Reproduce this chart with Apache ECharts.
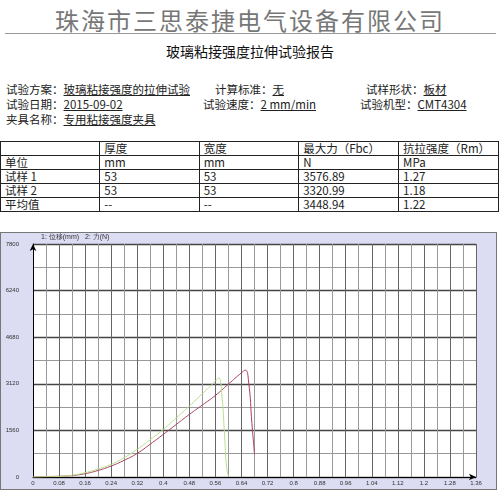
<!DOCTYPE html>
<html><head><meta charset="utf-8">
<script src="https://cdn.jsdelivr.net/npm/echarts@6/dist/echarts.min.js"></script>
<style>
body{margin:0;width:500px;height:494px;background:#fff;font-family:"Noto Sans CJK SC",sans-serif;position:relative;overflow:hidden}
#title{position:absolute;top:2px;left:0;width:500px;text-align:center;font-size:24px;color:#777;letter-spacing:2px}
#rule{position:absolute;top:33px;left:5px;width:491px;border-top:1px solid #999}
#sub{position:absolute;top:41px;left:0;width:500px;text-align:center;font-size:14px;color:#111}
.info{position:absolute;font-size:11.5px;color:#222;white-space:nowrap}
.info u{text-decoration:underline}
table{position:absolute;top:141px;left:0;width:499px;border-collapse:collapse;font-size:11.5px;color:#222}
td{border:1px solid #222;height:13px;padding:0 4px;line-height:13px;width:92px}
#chart{position:absolute;top:232px;left:0;width:497px;height:258px;border:1px solid #777;box-sizing:border-box}
</style></head><body>
<div id="title">珠海市三思泰捷电气设备有限公司</div>
<div id="rule"></div>
<div id="sub">玻璃粘接强度拉伸试验报告</div>
<div class="info" style="top:81px;left:6px">试验方案：<u>玻璃粘接强度的拉伸试验</u></div>
<div class="info" style="top:81px;left:215px">计算标准：<u>无</u></div>
<div class="info" style="top:81px;left:366px">试样形状：<u>板材</u></div>
<div class="info" style="top:96px;left:6px">试验日期：<u>2015-09-02</u></div>
<div class="info" style="top:96px;left:203px">试验速度：<u>2 mm/min</u></div>
<div class="info" style="top:96px;left:360px">试验机型：<u>CMT4304 </u></div>
<div class="info" style="top:111px;left:6px">夹具名称：<u>专用粘接强度夹具</u></div>
<table>
<tr><td></td><td>厚度</td><td>宽度</td><td>最大力（Fbc）</td><td>抗拉强度（Rm）</td></tr>
<tr><td>单位</td><td>mm</td><td>mm</td><td>N</td><td>MPa</td></tr>
<tr><td>试样 1</td><td>53</td><td>53</td><td>3576.89</td><td>1.27</td></tr>
<tr><td>试样 2</td><td>53</td><td>53</td><td>3320.99</td><td>1.18</td></tr>
<tr><td>平均值</td><td>--</td><td>--</td><td>3448.94</td><td>1.22</td></tr>
</table>
<div id="chart"></div>
<script>
var xTicks = [0, 0.08, 0.16, 0.24, 0.32, 0.4, 0.48, 0.56, 0.64, 0.72, 0.8, 0.88, 0.96, 1.04, 1.12, 1.2, 1.28, 1.36];
var sample1X = [0, 0.04, 0.08, 0.12, 0.16, 0.2, 0.24, 0.28, 0.32, 0.36, 0.4, 0.44, 0.48, 0.52, 0.56, 0.6, 0.64, 0.652, 0.662, 0.672, 0.68];
var sample1Y = [0, 15, 25, 50, 111, 220, 368, 560, 791, 1100, 1426, 1760, 2095, 2410, 2730, 3110, 3488, 3577, 3180, 1800, 760];
var sample2X = [0, 0.04, 0.08, 0.12, 0.16, 0.2, 0.24, 0.28, 0.32, 0.36, 0.4, 0.44, 0.48, 0.52, 0.56, 0.57, 0.58, 0.588, 0.594, 0.6];
var sample2Y = [0, 10, 20, 60, 145, 270, 423, 650, 925, 1250, 1593, 1980, 2373, 2790, 3209, 3321, 2708, 1400, 368, 30];

function pairs(xs, ys){ var out = []; for(var i = 0; i < xs.length; i++){ out.push([xs[i], ys[i]]); } return out; }

var myChart = echarts.init(document.getElementById('chart'));
myChart.setOption({
	backgroundColor: '#dcdcf2',
	animation: false,
	grid: {left: 32, right: 20, top: 11, bottom: 12, backgroundColor: '#fff', show: true, borderWidth: 0},
	graphic: [{type: 'text', left: 40, top: 1, style: {text: '1: 位移(mm)   2: 力(N)', fontSize: 7, fill: '#333'}}],
	xAxis: {
		type: 'value', min: 0, max: 1.36, interval: 0.08,
		axisLine: {lineStyle: {color: '#000'}, symbol: ['none', 'arrow'], symbolSize: [5, 7]},
		axisTick: {show: false},
		axisLabel: {fontSize: 6, color: '#333', margin: 3, formatter: function(v){ return String(+v.toFixed(2)); }},
		splitLine: {lineStyle: {color: '#666', width: 1}},
		minorTick: {show: false, splitNumber: 2},
		minorSplitLine: {show: true, lineStyle: {color: '#999'}}
	},
	yAxis: {
		type: 'value', min: 0, max: 7800, interval: 1560,
		axisLine: {show: true, lineStyle: {color: '#000'}, symbol: ['none', 'arrow'], symbolSize: [5, 7]},
		axisTick: {show: false},
		axisLabel: {fontSize: 6, color: '#333', margin: 14, formatter: function(v){ return String(v); }},
		splitLine: {lineStyle: {color: '#444', width: 1.3}},
		minorTick: {show: false, splitNumber: 2},
		minorSplitLine: {show: true, lineStyle: {color: '#999'}}
	},
	series: [
		{type: 'line', data: pairs(sample1X, sample1Y), symbol: 'none', smooth: true, lineStyle: {color: '#a8405e', width: 1}},
		{type: 'line', data: pairs(sample2X, sample2Y), symbol: 'none', smooth: true, lineStyle: {color: '#b8e08c', width: 1}}
	]
});
</script>
</body></html>
